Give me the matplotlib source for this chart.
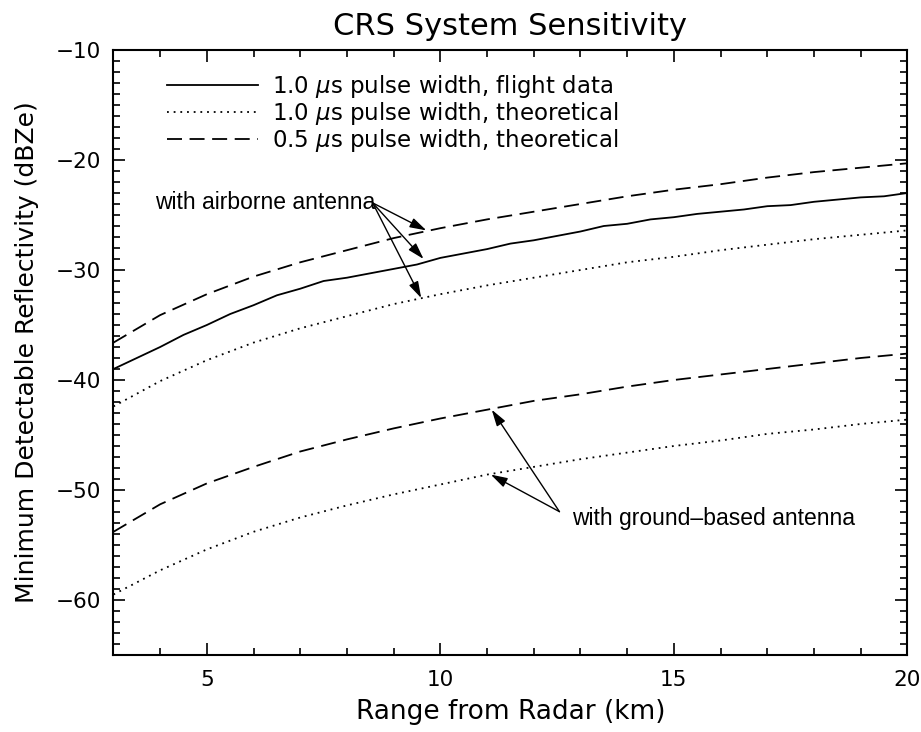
import matplotlib.pyplot as plt
from matplotlib.ticker import MultipleLocator

# range grid (km) for the theoretical curves
range_km = [3, 4, 5, 6, 7, 8, 9, 10, 11, 12, 13, 14, 15, 16, 17, 18, 19, 20]

# airborne antenna, theoretical
air_05us = [-36.6, -34.1, -32.2, -30.6, -29.3, -28.2, -27.1, -26.2, -25.4,
            -24.7, -24.0, -23.3, -22.7, -22.2, -21.6, -21.1, -20.7, -20.3]
air_10us = [-42.4, -40.1, -38.2, -36.6, -35.3, -34.2, -33.1, -32.2, -31.4,
            -30.7, -30.0, -29.3, -28.8, -28.2, -27.7, -27.2, -26.8, -26.4]

# ground-based antenna, theoretical
gnd_05us = [-53.8, -51.3, -49.4, -47.9, -46.5, -45.4, -44.4, -43.5, -42.7,
            -41.9, -41.3, -40.6, -40.0, -39.5, -39.0, -38.5, -38.0, -37.6]
gnd_10us = [-59.5, -57.3, -55.4, -53.8, -52.5, -51.4, -50.4, -49.5, -48.6,
            -47.9, -47.2, -46.6, -46.0, -45.5, -44.9, -44.5, -44.0, -43.6]

# flight data, 1.0 us pulse, airborne antenna
flight_km = [3.0, 3.5, 4.0, 4.5, 5.0, 5.5, 6.0, 6.5, 7.0, 7.5, 8.0, 8.5,
             9.0, 9.5, 10.0, 10.5, 11.0, 11.5, 12.0, 12.5, 13.0, 13.5, 14.0,
             14.5, 15.0, 15.5, 16.0, 16.5, 17.0, 17.5, 18.0, 18.5, 19.0,
             19.5, 20.0]
flight_dbz = [-39.0, -38.0, -37.0, -35.9, -35.0, -34.0, -33.2, -32.3, -31.7,
              -31.0, -30.7, -30.3, -29.9, -29.5, -28.9, -28.5, -28.1, -27.6,
              -27.3, -26.9, -26.5, -26.0, -25.8, -25.4, -25.2, -24.9, -24.7,
              -24.5, -24.2, -24.1, -23.8, -23.6, -23.4, -23.3, -23.0]

legend_labels = [r"1.0 $\mu$s pulse width, flight data",
                 r"1.0 $\mu$s pulse width, theoretical",
                 r"0.5 $\mu$s pulse width, theoretical"]

dotted = (0, (1, 2.7))
dashed = (0, (8.3, 4.2))

fig = plt.figure(figsize=(9.21, 7.32), dpi=100)
ax = fig.add_axes([0.1232, 0.1052, 0.862, 0.8265])

l1, = ax.plot(flight_km, flight_dbz, color='black', lw=1.3, linestyle='-')
l2, = ax.plot(range_km, air_10us, color='black', lw=1.3, linestyle=dotted)
l3, = ax.plot(range_km, air_05us, color='black', lw=1.3, linestyle=dashed)
ax.plot(range_km, gnd_10us, color='black', lw=1.3, linestyle=dotted)
ax.plot(range_km, gnd_05us, color='black', lw=1.3, linestyle=dashed)

ax.set_xlim(3, 20)
ax.set_ylim(-65, -10)
ax.xaxis.set_major_locator(MultipleLocator(5))
ax.xaxis.set_minor_locator(MultipleLocator(1))
ax.yaxis.set_major_locator(MultipleLocator(10))
ax.yaxis.set_minor_locator(MultipleLocator(1))
ax.tick_params(which='both', direction='in', top=True, right=True,
               width=1.2, labelsize=15.5)
ax.tick_params(which='major', length=8.5)
ax.tick_params(which='minor', length=5)
ax.tick_params(axis='x', pad=11)
ax.tick_params(axis='y', pad=9)
for s in ax.spines.values():
    s.set_linewidth(1.5)

ax.set_title("CRS System Sensitivity", fontsize=22, pad=11)
ax.set_xlabel("Range from Radar (km)", fontsize=19, labelpad=6)
ax.set_ylabel("Minimum Detectable Reflectivity (dBZe)", fontsize=18,
              labelpad=12)

leg = ax.legend([l1, l2, l3], legend_labels, loc='upper left',
                bbox_to_anchor=(0.067, 0.962), frameon=False, fontsize=16.5,
                handlelength=4.0, handletextpad=0.6, labelspacing=0.0,
                borderpad=0, borderaxespad=0)

arrow = dict(arrowstyle='-|>,head_length=0.5,head_width=0.15', color='black',
             lw=1.0, shrinkA=0, shrinkB=0, mutation_scale=20)

ax.text(3.88, -24.5, "with airborne antenna", fontsize=16.5,
        family='Liberation Sans', va='baseline', ha='left')
for tip in [(9.7, -26.4), (9.64, -29.0), (9.59, -32.55)]:
    ax.annotate("", xy=tip, xytext=(8.55, -23.9), arrowprops=arrow)

ax.text(12.83, -53.15, "with ground\u2013based antenna", fontsize=16.5,
        family='Liberation Sans', va='baseline', ha='left')
for tip in [(11.1, -42.7), (11.08, -48.6)]:
    ax.annotate("", xy=tip, xytext=(12.55, -51.97), arrowprops=arrow)

fig.savefig("out.png", dpi=100)
